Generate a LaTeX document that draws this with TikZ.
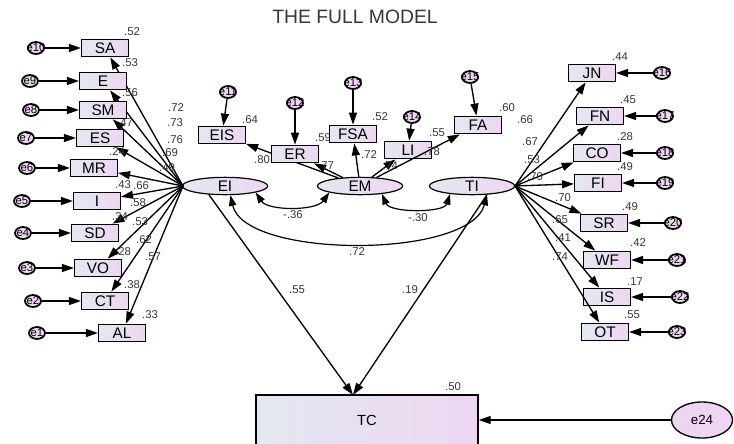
\documentclass[tikz,border=0pt]{standalone}
\usepackage{fontspec}
\setmainfont{Liberation Sans}
\usetikzlibrary{shapes.geometric,arrows.meta,calc}
\definecolor{gl}{RGB}{226,232,240}
\definecolor{gr}{RGB}{238,214,242}
\definecolor{vc}{RGB}{55,55,55}
\begin{document}
\begin{tikzpicture}[x=0.75pt,y=-0.75pt,
 obs/.style={draw, line width=1.1pt, left color=gl, right color=gr, minimum width=35pt, minimum height=13pt, inner sep=0pt, font=\fontsize{11.5}{11.5}\selectfont},
 lat/.style={ellipse, draw, line width=0.9pt, left color=gl, right color=gr, minimum width=64pt, minimum height=13pt, inner sep=0pt, font=\fontsize{11.5}{11.5}\selectfont},
 err/.style={ellipse, draw, line width=1.3pt, fill=gr, minimum width=12pt, minimum height=9pt, inner sep=0pt,
   label={[font=\fontsize{8.5}{8.5}\selectfont, inner sep=0pt]center:#1}},
 arr/.style={-{Triangle[length=9pt,width=6pt]}, line width=1pt},
 darr/.style={{Triangle[length=8pt,width=5.5pt]}-{Triangle[length=8pt,width=5.5pt]}, line width=0.9pt},
 val/.style={font=\fontsize{8.5}{8.5}\selectfont, text=vc, inner sep=0pt},
]
\clip (0,0) rectangle (734,443);
\fill[white] (0,0) rectangle (734,443);

\node[font=\fontsize{14.5}{14.5}\selectfont, text=vc] (title) at (355,17) {THE FULL MODEL};

% latents
\node[lat] (ei) at (225,186) {EI};
\node[lat] (em) at (360,186) {EM};
\node[lat] (ti) at (472,186) {TI};
\coordinate (eiL) at (183,186);
\coordinate (tiR) at (515,186);

% left indicators
\foreach \n/\t/\bx/\by/\e/\ex/\rx/\ry/\rv/\lx/\ly/\lv in {
  sa/SA/105/48/e10/36/132/32/.52/176/108/.72,
  e/E/103/81/e9/30/130/63/.53/175/123/.73,
  sm/SM/103/110/e8/31/130/93/.56/175/140/.76,
  es/ES/100/138/e7/26/125/123/.47/170/153/.69,
  mr/MR/94/168/e6/27/117/152/.24/167/168/.49,
  i/I/97/201/e5/22/123/185/.43/141/186/.66,
  sd/SD/95/233/e4/23/120/217/.34/138/203/.58,
  vo/VO/98/268/e3/27/123/252/.28/140/222/.53,
  ct/CT/105/301/e2/33/132/285/.38/144/240/.62,
  al/AL/122/333/e1/37/150/315/.33/153/257/.57}{
  \node[obs] (\n) at (\bx,\by) {\t};
  \node[err=\e] (\e) at (\ex,\by) {};
  \draw[arr] (\e) -- (\n);
  \draw[arr] (eiL) -- (\n);
  \node[val] (r\n) at (\rx,\ry) {\rv};
  \node[val] (l\n) at (\lx,\ly) {\lv};
}

% right indicators
\foreach \n/\t/\bx/\by/\e/\ex/\rx/\ry/\rv/\lx/\ly/\lv in {
  jn/JN/592/73/e16/662/620/57/.44/525/120/.66,
  fn/FN/600/116/e17/665/628/100/.45/530/142/.67,
  co/CO/597/153/e18/665/625/137/.28/532/160/.53,
  fi/FI/598/183/e19/665/625/167/.49/535/177/.70,
  sr/SR/604/223/e20/673/630/207/.49/563/198/.70,
  wf/WF/607/260/e21/677/638/243/.42/560/220/.65,
  is/IS/607/297/e22/680/635/282/.17/563/238/.41,
  ot/OT/605/332/e23/677/632/315/.55/560/257/.74}{
  \node[obs] (\n) at (\bx,\by) {\t};
  \node[err=\e] (\e) at (\ex,\by) {};
  \draw[arr] (\e) -- (\n);
  \draw[arr] (tiR) -- (\n);
  \node[val] (r\n) at (\rx,\ry) {\rv};
  \node[val] (l\n) at (\lx,\ly) {\lv};
}

% EM indicators
\foreach \n/\t/\bx/\by/\e/\ex/\ey/\rx/\ry/\rv/\lx/\ly/\lv in {
  eis/EIS/222/135/e11/228/92/250/120/.64/262/160/.80,
  er/ER/295/154/e12/295/103/323/138/.59/326/166/.77,
  fsa/FSA/353/134/e13/353/83/380/117/.52/369/155/.72,
  li/LI/408/150/e14/412/117/437/133/.55/390/166/.74,
  fa/FA/478/125/e15/470/77/507/108/.60/432/152/.78}{
  \node[obs] (\n) at (\bx,\by) {\t};
  \node[err=\e] (\e) at (\ex,\ey) {};
  \draw[arr] (\e) -- (\n);
  \draw[arr] (em) -- (\n);
  \node[val] (r\n) at (\rx,\ry) {\rv};
  \node[val] (l\n) at (\lx,\ly) {\lv};
}

% covariances
\draw[darr] (ei.-12) .. controls (268,211) and (316,211) .. (em.-168);
\draw[darr] (em.-20) .. controls (390,213) and (444,213) .. (ti.-160);
\draw[darr] (ei.-60) .. controls (245,259) and (470,259) .. (ti.-30);
\node[val] (c1) at (293,215) {-.36};
\node[val] (c2) at (418,218) {-.30};
\node[val] (c3) at (357,252) {.72};

% outcome
\node[draw, line width=1.1pt, left color=gl, right color=gr, minimum width=166.5pt, minimum height=37.5pt, inner sep=0pt, font=\fontsize{11}{11}\selectfont] (tc) at (367,420) {TC};
\coordinate (tcin) at (353,395);
\draw[arr] (ei.-152) -- (tcin);
\draw[arr] (ti.-30) -- (tcin);
\node[val] (p1) at (297,290) {.55};
\node[val] (p2) at (410,290) {.19};
\node[val] (rtc) at (453,387) {.50};
\node[ellipse, draw, line width=1pt, fill=gr, minimum width=45.75pt, minimum height=27pt, inner sep=0pt, font=\fontsize{10}{10}\selectfont] (e24) at (702,420) {e24};
\draw[arr] (e24) -- (tc);
\end{tikzpicture}
\end{document}
